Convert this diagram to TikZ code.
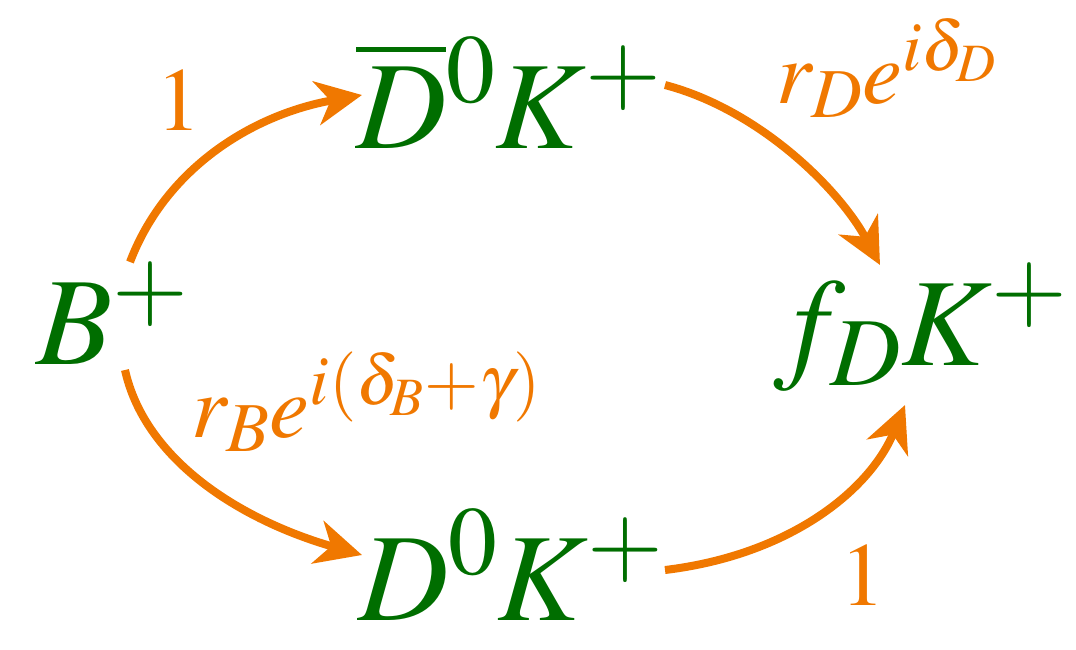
\documentclass[tikz,border=0pt]{standalone}
\usepackage{mathptmx}
\usetikzlibrary{arrows.meta}
\def\defaultscriptratio{.78}
\def\defaultscriptscriptratio{.6}
\definecolor{pgreen}{RGB}{0,110,0}
\definecolor{porange}{RGB}{240,120,0}
\tikzset{
  state/.style={text=pgreen, inner sep=0pt, anchor=base west, font=\fontsize{125}{132}\selectfont},
  amp/.style={text=porange, inner sep=0pt, anchor=base west, font=\fontsize{90}{98}\selectfont},
  flow/.style={draw=porange, line width=8pt, -{Stealth[length=46pt, width=44pt, inset=14pt]}}
}
\begin{document}
\begin{tikzpicture}[x=1pt,y=-1pt]
\useasboundingbox (0,0) rectangle (1076,649);
\node[state] (B) at (36,364) {$B^+$};
\node[state] (Dbar) at (356,148) {$\overline{D}{}^0K^+$};
\node[state] (D) at (358,620) {$D^0K^+$};
\node[state] (f) at (774,365) {$f_DK^+$};
\node[amp] (l1) at (156,130) {$1$};
\node[amp] (lD) at (776,103) {$r_De^{i\delta_D}$};
\node[amp] (lB) at (191,437) {$r_Be^{i(\delta_B+\gamma)}$};
\node[amp] (l2) at (840,605) {$1$};
\coordinate (a1s) at (130,262);
\coordinate (a1e) at (362,95);
\coordinate (a2s) at (665,85);
\coordinate (a2e) at (880,265);
\coordinate (a3s) at (125,370);
\coordinate (a3e) at (362,555);
\coordinate (a4s) at (665,570);
\coordinate (a4e) at (905,405);
\draw[flow] (a1s) .. controls (165,170) and (250,115) .. (a1e);
\draw[flow] (a2s) .. controls (760,110) and (840,190) .. (a2e);
\draw[flow] (a3s) .. controls (145,460) and (240,520) .. (a3e);
\draw[flow] (a4s) .. controls (790,555) and (870,490) .. (a4e);
\end{tikzpicture}
\end{document}
